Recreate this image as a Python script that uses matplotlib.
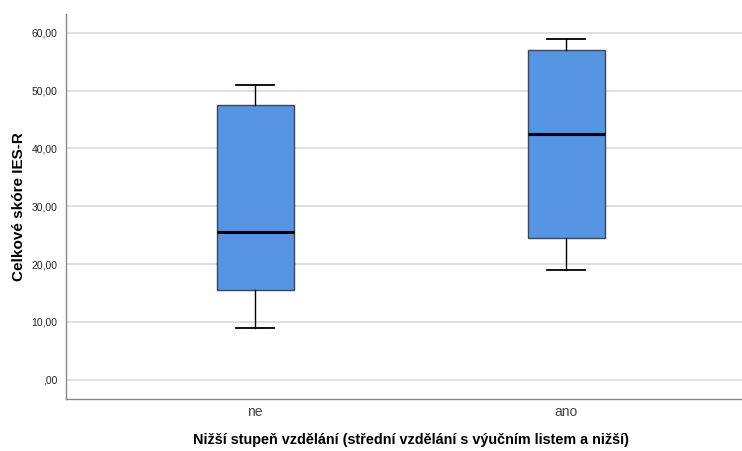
import matplotlib
matplotlib.use("Agg")
import matplotlib.pyplot as plt

categories = ["ne", "ano"]
whisker_low = [9.0, 19.0]
q1 = [15.5, 24.5]
median = [25.5, 42.5]
q3 = [47.5, 57.0]
whisker_high = [51.0, 59.0]

ytick_values = [0, 10, 20, 30, 40, 50, 60]
ytick_labels = [",00", "10,00", "20,00", "30,00", "40,00", "50,00", "60,00"]

plt.rcParams['font.family'] = ['Liberation Sans', 'DejaVu Sans']

fig = plt.figure(figsize=(7.42, 4.51), dpi=100)
ax = fig.add_axes([0.0883, 0.1164, 0.9117, 0.8526])

stats = []
for i, c in enumerate(categories):
    stats.append(dict(label=c, whislo=whisker_low[i], q1=q1[i], med=median[i],
                      q3=q3[i], whishi=whisker_high[i], fliers=[]))

ax.bxp(stats, positions=range(len(categories)), widths=0.248, patch_artist=True,
       showfliers=False,
       boxprops=dict(facecolor="#5595E3", edgecolor="#3c4654", linewidth=1.0),
       medianprops=dict(color="black", linewidth=2.2),
       whiskerprops=dict(color="black", linewidth=1.0),
       capprops=dict(color="black", linewidth=1.3),
       capwidths=0.123, zorder=3)

ax.set_xlim(-0.61, 1.565)
ax.set_ylim(-3.25, 63.27)
ax.set_yticks(ytick_values)
ax.set_yticklabels(ytick_labels, fontsize=7.5, color="#222222")
ax.set_xticks(range(len(categories)))
ax.set_xticklabels(categories, fontsize=10, color="#444444")
ax.tick_params(axis='y', length=0, pad=6)
ax.tick_params(axis='x', length=0, pad=5)

ax.yaxis.grid(True, color="#d9d9d9", linewidth=1.2, zorder=0)
ax.set_axisbelow(True)
for s in ["top", "right"]:
    ax.spines[s].set_visible(False)
for s in ["left", "bottom"]:
    ax.spines[s].set_color("#888888")
    ax.spines[s].set_linewidth(1.0)

ax.set_ylabel("Celkové skóre IES-R", fontsize=11, fontweight="bold")
ax.set_xlabel("Nižší stupeň vzdělání (střední vzdělání s výučním listem a nižší)",
              fontsize=10.4, fontweight="bold")
ax.xaxis.set_label_coords(0.511, -0.108)
ax.xaxis.label.set_va("center")
ax.yaxis.set_label_coords(-0.069, 0.5)
ax.yaxis.label.set_va("center")

fig.savefig("out.png", dpi=100)
